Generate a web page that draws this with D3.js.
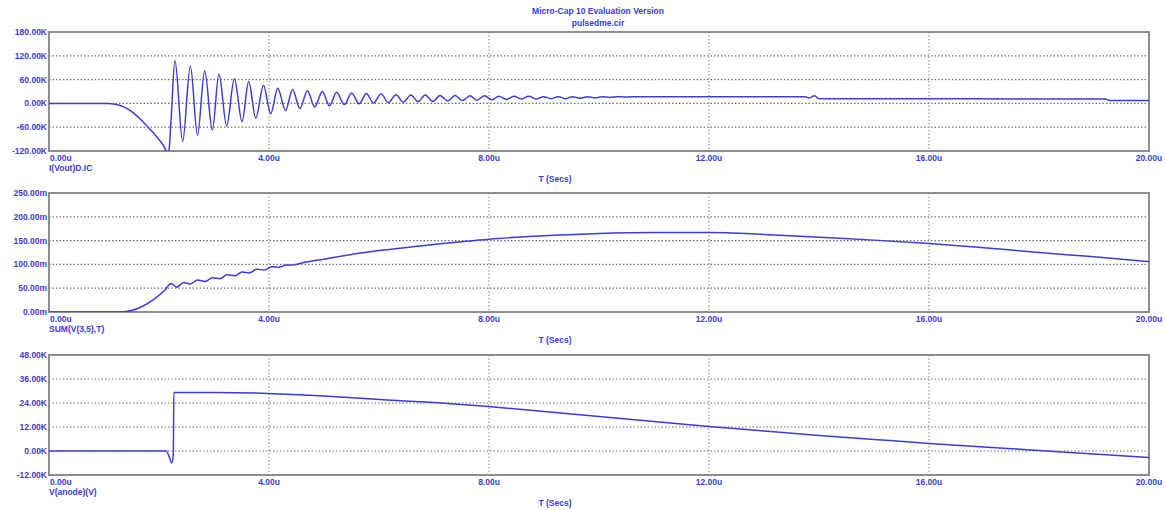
<!DOCTYPE html>
<html>
<head>
<meta charset="utf-8">
<script src="https://cdn.jsdelivr.net/npm/d3@7"></script>
<style>
  html, body { margin: 0; padding: 0; background: #ffffff; }
  svg { display: block; }
  text { font-family: Arial, "Liberation Sans", sans-serif; font-weight: bold; fill: #3b3bd9; }
</style>
</head>
<body>
<svg id="chart" width="1166" height="510"></svg>
<script>
// ---- Transient analysis waveforms (time in microseconds) ----

// Time axis ticks (µs)
const timeTicks = [0, 4, 8, 12, 16, 20];
const timeTickLabels = ["0.00u", "4.00u", "8.00u", "12.00u", "16.00u", "20.00u"];

// Panel 1: current, thousands
const currentTicks = [-120, -60, 0, 60, 120, 180];
const currentTickLabels = ["-120.00K", "-60.00K", "0.00K", "60.00K", "120.00K", "180.00K"];
const currentPoints = [
  [0, 0], [1.09, 0], [1.2, -2], [1.35, -8], [1.5, -20], [1.65, -38], [1.8, -60],
  [1.95, -83], [2.08, -106], [2.15, -122], [2.18, -118], [2.22, -40],
  [2.29, 108], [2.43, -96], [2.57, 94], [2.70, -80], [2.83, 82], [2.97, -67],
  [3.09, 74], [3.23, -57], [3.37, 62], [3.51, -46], [3.63, 55], [3.76, -37],
  [3.90, 46], [4.03, -26], [4.16, 38], [4.30, -18], [4.43, 35], [4.56, -13],
  [4.70, 32], [4.83, -9], [4.97, 30], [5.10, -6], [5.23, 28], [5.37, -3],
  [5.50, 26], [5.64, -1], [5.77, 25], [5.90, 1], [6.04, 24], [6.17, 2],
  [6.31, 22], [6.44, 3], [6.58, 21], [6.71, 4], [6.84, 21], [6.98, 5],
  [7.11, 20], [7.25, 6], [7.38, 20], [7.52, 7], [7.65, 19], [7.78, 8],
  [7.92, 19], [8.05, 9], [8.18, 18], [8.32, 10], [8.45, 18], [8.59, 11],
  [8.72, 18], [8.86, 11], [8.99, 17], [9.13, 12], [9.26, 17], [9.39, 12],
  [9.52, 17], [9.66, 13], [9.79, 17], [9.93, 14], [10.06, 17], [10.20, 15],
  [10.33, 17], [10.47, 16], [10.6, 16.5], [13.75, 16.5], [13.82, 14],
  [13.92, 19], [14.0, 12], [19.2, 11], [19.3, 7], [20, 7]
];

// Panel 2: running integral, milli
const sumTicks = [0, 50, 100, 150, 200, 250];
const sumTickLabels = ["0.00m", "50.00m", "100.00m", "150.00m", "200.00m", "250.00m"];
const sumPoints = [
  [0, 0], [1.3, 0], [1.5, 3], [1.7, 12], [1.9, 26], [2.1, 45], [2.22, 60],
  [2.32, 52], [2.45, 62], [2.57, 59], [2.70, 67], [2.84, 64], [2.97, 72],
  [3.10, 70], [3.24, 78], [3.38, 76], [3.51, 84], [3.64, 82], [3.78, 90],
  [3.92, 88], [4.05, 95], [4.18, 94], [4.32, 99], [4.45, 99], [4.6, 103],
  [5, 111], [5.5, 121], [6, 129], [7, 142], [8, 153], [9, 160], [10, 165],
  [11, 167], [12, 167], [13, 163], [14, 157], [15, 151], [16, 144],
  [17, 135], [18, 125], [19, 116], [20, 106]
];

// Panel 3: anode voltage, thousands
const anodeTicks = [-12, 0, 12, 24, 36, 48];
const anodeTickLabels = ["-12.00K", "0.00K", "12.00K", "24.00K", "36.00K", "48.00K"];
const anodePoints = [
  [0, 0], [2.13, 0], [2.2, -4], [2.23, -6], [2.26, -2], [2.27, 29.3],
  [3, 29.3], [4, 28.8], [5, 27.5], [6, 25.8], [7, 24.2], [8, 22.2],
  [9, 19.7], [10, 17.2], [11, 14.7], [12, 12.2], [13, 10], [14, 7.8],
  [15, 5.8], [16, 3.8], [17, 2], [18, 0.3], [19, -1.5], [20, -3.3]
];

const panels = [
  { top: 32, bottom: 151, ticks: currentTicks, labels: currentTickLabels, points: currentPoints, name: "I(Vout)D.IC" },
  { top: 193, bottom: 312, ticks: sumTicks, labels: sumTickLabels, points: sumPoints, name: "SUM(V(3,5),T)" },
  { top: 355, bottom: 475, ticks: anodeTicks, labels: anodeTickLabels, points: anodePoints, name: "V(anode)(V)" }
];

const left = 49, right = 1149;
const svg = d3.select("#chart");
const x = d3.scaleLinear().domain([0, 20]).range([left, right]);

// Header
svg.append("text").attr("x", 598).attr("y", 14).attr("text-anchor", "middle")
  .attr("font-size", 8.5).text("Micro-Cap 10 Evaluation Version");
svg.append("text").attr("x", 598).attr("y", 26).attr("text-anchor", "middle")
  .attr("font-size", 8.5).text("pulsedme.cir");

panels.forEach((p, i) => {
  const y = d3.scaleLinear()
    .domain([p.ticks[0], p.ticks[p.ticks.length - 1]])
    .range([p.bottom, p.top]);
  const g = svg.append("g");

  // Clip region for the trace
  const clipId = "clip" + i;
  svg.append("clipPath").attr("id", clipId).append("rect")
    .attr("x", left).attr("y", p.top).attr("width", right - left).attr("height", p.bottom - p.top);

  // Horizontal grid (inner ticks)
  g.selectAll(".hg").data(p.ticks.slice(1, -1)).join("line")
    .attr("x1", left).attr("x2", right)
    .attr("y1", d => y(d)).attr("y2", d => y(d))
    .attr("stroke", "#6f6f6f").attr("stroke-width", 1.2).attr("stroke-dasharray", "1.5,2");

  // Vertical grid (inner ticks)
  g.selectAll(".vg").data(timeTicks.slice(1, -1)).join("line")
    .attr("x1", d => x(d)).attr("x2", d => x(d))
    .attr("y1", p.top).attr("y2", p.bottom)
    .attr("stroke", "#9a9a9a").attr("stroke-width", 1.2).attr("stroke-dasharray", "1.5,2");

  // Frame
  g.append("rect").attr("x", left).attr("y", p.top)
    .attr("width", right - left).attr("height", p.bottom - p.top)
    .attr("fill", "none").attr("stroke", "#8d8d8d").attr("stroke-width", 2);

  // Trace
  const line = d3.line().x(d => x(d[0])).y(d => y(d[1])).curve(d3.curveMonotoneX);
  g.append("path").datum(p.points)
    .attr("clip-path", `url(#${clipId})`)
    .attr("d", line).attr("fill", "none")
    .attr("stroke", "#3c3cd8").attr("stroke-width", 1.5);

  // Y tick labels
  g.selectAll(".yl").data(p.ticks).join("text")
    .attr("x", left - 2).attr("y", d => y(d) + 3)
    .attr("text-anchor", "end").attr("font-size", 8.5)
    .text((d, j) => p.labels[j]);

  // X tick labels
  g.selectAll(".xl").data(timeTicks).join("text")
    .attr("x", d => x(d) + (d === 0 ? 1 : 0)).attr("y", p.bottom + 10)
    .attr("text-anchor", d => d === 0 ? "start" : "middle").attr("font-size", 8.5)
    .text((d, j) => timeTickLabels[j]);

  // Trace name
  g.append("text").attr("x", left).attr("y", p.bottom + 20)
    .attr("font-size", 8.5).text(p.name);

  // Axis title
  g.append("text").attr("x", 555).attr("y", p.bottom + 31)
    .attr("text-anchor", "middle").attr("font-size", 8.5).text("T (Secs)");
});
</script>
</body>
</html>
